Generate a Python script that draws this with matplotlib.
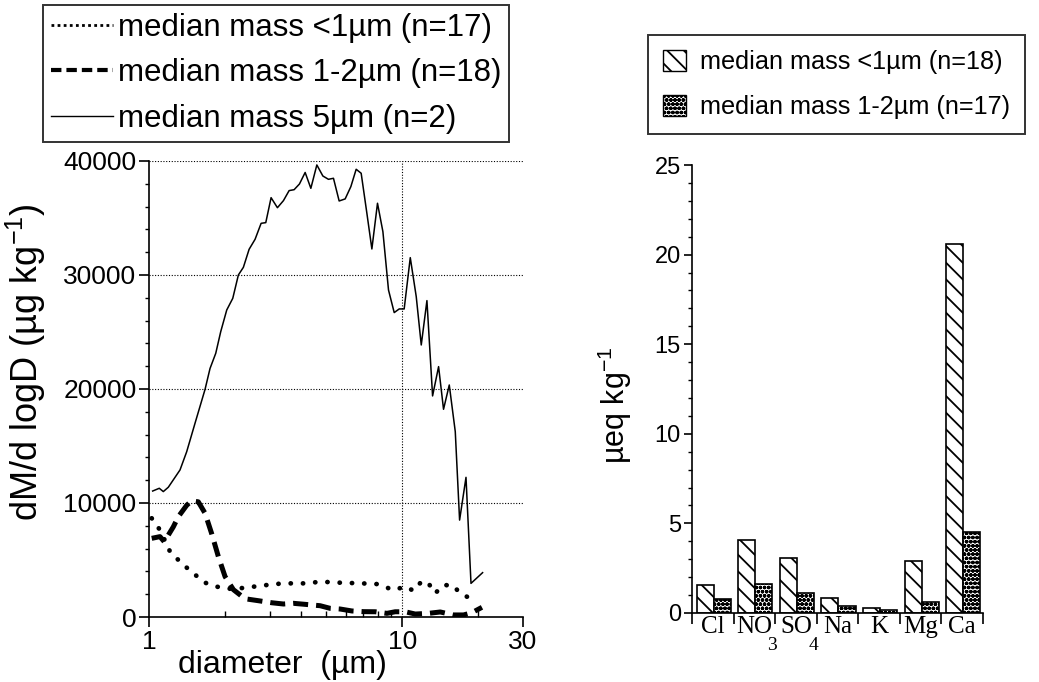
import numpy as np
import matplotlib
matplotlib.use('Agg')
import matplotlib.pyplot as plt
from matplotlib.lines import Line2D
from matplotlib.patches import Patch
from matplotlib.ticker import FixedLocator, NullFormatter, FixedFormatter

plt.rcParams['font.family'] = ['Liberation Sans', 'DejaVu Sans']
plt.rcParams['mathtext.fontset'] = 'custom'
plt.rcParams['mathtext.rm'] = 'Liberation Sans'
plt.rcParams['mathtext.sf'] = 'Liberation Sans'
plt.rcParams['hatch.linewidth'] = 1.3

# -----------------------------------------------
# Left panel - mass size distributions
# -----------------------------------------------

# median mass 5 um (n=2)
d_5um = [1.034, 1.098, 1.139, 1.192, 1.326, 1.409, 1.520, 1.665, 1.742, 1.835,
         1.920, 2.028, 2.142, 2.254, 2.359, 2.485, 2.624, 2.772, 2.892, 3.035,
         3.215, 3.396, 3.576, 3.742, 3.928, 4.137, 4.357, 4.601, 4.860, 5.113,
         5.352, 5.636, 5.952, 6.269, 6.579, 6.885, 7.252, 7.589, 7.987, 8.389,
         8.828, 9.298, 9.730, 10.18, 10.76, 11.36, 11.89, 12.52, 13.18, 13.92,
         14.56, 15.34, 16.20, 16.85, 17.86, 18.69, 20.77]
m_5um = [11050, 11290, 11000, 11380, 12900, 14500, 17000, 19970, 21800, 23130,
         25030, 26930, 27950, 30000, 30670, 32250, 33130, 34530, 34590, 36780,
         35900, 36520, 37400, 37480, 37980, 38990, 37600, 39650, 38680, 38390,
         38480, 36490, 36670, 37750, 39270, 38920, 35410, 32280, 36290, 33800,
         28680, 26700, 27020, 27020, 31520, 28100, 23860, 27750, 19390, 21960,
         18220, 20350, 16260, 8500, 12250, 2950, 3890]

# median mass 1-2 um (n=18)
d_12um = [1.025, 1.105, 1.149, 1.247, 1.306, 1.409, 1.475, 1.566, 1.665, 1.769,
          1.879, 1.997, 2.154, 2.395, 2.704, 3.055, 3.396, 3.719, 4.137, 4.742,
          5.192, 5.689, 6.327, 7.031, 7.822, 8.703, 9.382, 10.28, 11.26, 12.70,
          14.13, 15.95, 17.47, 18.86, 20.65]
m_12um = [6900, 7050, 6600, 7900, 8800, 9800, 10200, 10100, 9100, 7300,
          5300, 3550, 2400, 1600, 1430, 1250, 1140, 1200, 1110, 990,
          760, 700, 530, 470, 460, 320, 460, 460, 260, 320,
          440, 180, 180, 380, 850]

# median mass <1 um (n=17)
d_1um = [1.025, 1.105, 1.211, 1.346, 1.497, 1.665, 1.852, 2.154, 2.433, 2.746,
         3.099, 3.502, 4.202, 4.742, 5.689, 6.930, 7.943, 9.239, 10.28, 11.08,
         11.97, 12.70, 13.50, 14.56, 15.95, 16.69, 18.02, 20.03]
m_1um = [8660, 7630, 5730, 4710, 3830, 3010, 2660, 2430, 2600, 2720,
         2890, 2950, 2950, 3100, 3010, 2950, 2890, 2370, 2660, 2310,
         3160, 2950, 2080, 2810, 2750, 2220, 1780, 1730]

# -----------------------------------------------
# Right panel - ion concentrations
# -----------------------------------------------

ion_names = ['Cl', 'NO', 'SO', 'Na', 'K', 'Mg', 'Ca']
ion_subs = ['', '3', '4', '', '', '', '']
ion_lt1 = [1.55, 4.10, 3.05, 0.84, 0.28, 2.90, 20.57]
ion_12 = [0.80, 1.60, 1.12, 0.37, 0.17, 0.61, 4.50]

fig = plt.figure(figsize=(10.39, 6.82), dpi=100)

# ---------------- left panel ----------------
ax1 = fig.add_axes([0.1434, 0.0953, 0.36, 0.6687])
ax1.plot(d_1um, m_1um, color='black', lw=3.4,
         linestyle=(0, (0.05, 2.55)), dash_capstyle='round')
ax1.plot(d_12um, m_12um, color='black', lw=3.6,
         linestyle=(0, (3.0, 1.6)))
ax1.plot(d_5um, m_5um, color='black', lw=1.1)

ax1.set_xscale('log')
ax1.set_xlim(1, 30)
ax1.set_ylim(0, 40000)
ax1.xaxis.set_major_locator(FixedLocator([1, 10, 30]))
ax1.xaxis.set_major_formatter(FixedFormatter(['1', '10', '30']))
ax1.xaxis.set_minor_locator(FixedLocator([2, 3, 4, 5, 6, 7, 8, 9, 20]))
ax1.xaxis.set_minor_formatter(NullFormatter())
ax1.set_yticks([0, 10000, 20000, 30000, 40000])
ax1.yaxis.set_minor_locator(FixedLocator(np.arange(0, 40001, 2000)))

for y in [10000, 20000, 30000, 40000]:
    ax1.axhline(y, color='black', lw=0.8, linestyle=(0, (1, 1.5)), zorder=0)
ax1.axvline(10, color='black', lw=0.8, linestyle=(0, (1, 1.5)), zorder=0)

for side in ['top', 'right']:
    ax1.spines[side].set_visible(False)
ax1.spines['left'].set_linewidth(1.2)
ax1.spines['bottom'].set_linewidth(1.2)
ax1.tick_params(axis='both', which='major', direction='out', length=7,
                width=1.2, labelsize=19)
ax1.tick_params(axis='y', which='major', pad=2)
ax1.tick_params(axis='y', which='minor', direction='out', length=3, width=1)
ax1.tick_params(axis='x', which='minor', direction='in', length=4, width=1)
ax1.tick_params(axis='x', which='major', pad=2)

ax1.set_xlabel('diameter  (µm)', fontsize=23)
ax1.xaxis.set_label_coords(0.356, -0.072)
ax1.set_ylabel('dM/d logD (µg kg$^{-1}$)', fontsize=26)
ax1.yaxis.set_label_coords(-0.27, 0.56)

h1 = [Line2D([], [], color='black', lw=2, linestyle=(0, (1, 1.2))),
      Line2D([], [], color='black', lw=3, linestyle=(0, (2.5, 1.2))),
      Line2D([], [], color='black', lw=1)]
lab1 = ['median mass <1µm (n=17)', 'median mass 1-2µm (n=18)',
        'median mass 5µm (n=2)']
leg1 = fig.legend(h1, lab1, loc='upper left', bbox_to_anchor=(0.0414, 0.9927),
                  fontsize=22.5, frameon=True, fancybox=False, handlelength=2.0,
                  handletextpad=0.15, borderpad=0.25, labelspacing=0.5,
                  borderaxespad=0)
leg1.get_frame().set_edgecolor('black')
leg1.get_frame().set_linewidth(1.4)

# ---------------- right panel ----------------
ax2 = fig.add_axes([0.666, 0.1012, 0.280, 0.6568])
x = np.arange(len(ion_names))
ax2.bar(x - 0.18, ion_lt1, width=0.41, color='white', edgecolor='black',
        hatch='\\\\', lw=1.2)
ax2.bar(x + 0.23, ion_12, width=0.41, color='white', edgecolor='black',
        hatch='oooo', lw=1.2)

ax2.set_xlim(-0.5, 6.5)
ax2.set_ylim(0, 25)
ax2.xaxis.set_major_locator(FixedLocator(np.arange(-0.5, 7, 1)))
ax2.xaxis.set_major_formatter(NullFormatter())
ax2.xaxis.set_minor_locator(FixedLocator(x))
ax2.xaxis.set_minor_formatter(FixedFormatter(ion_names))
ax2.set_yticks([0, 5, 10, 15, 20, 25])
ax2.yaxis.set_minor_locator(FixedLocator(np.arange(0, 26, 1)))

for side in ['top', 'right']:
    ax2.spines[side].set_visible(False)
ax2.spines['left'].set_linewidth(1.2)
ax2.spines['bottom'].set_linewidth(1.2)
ax2.tick_params(axis='x', which='major', direction='out', length=8, width=1.2)
ax2.tick_params(axis='x', which='minor', length=0, pad=2)
ax2.tick_params(axis='y', which='major', direction='out', length=6, width=1.2,
                pad=2)
ax2.tick_params(axis='y', which='minor', direction='out', length=3, width=1)
for t in ax2.get_xticklabels(minor=True):
    t.set_fontfamily('Liberation Serif')
    t.set_fontsize(18)
for t in ax2.get_yticklabels():
    t.set_fontsize(17)

# subscripts of NO3 and SO4, set low under the tick labels
for i, s in enumerate(ion_subs):
    if s:
        ax2.annotate(s, xy=(x[i], 0), xycoords=('data', 'axes fraction'),
                     xytext=(13, -17), textcoords='offset points',
                     ha='center', va='top', fontsize=14,
                     fontfamily='Liberation Serif')

ax2.set_ylabel('µeq kg$^{-1}$', fontsize=22)
ax2.yaxis.set_label_coords(-0.2, 0.465)

h2 = [Patch(facecolor='white', edgecolor='black', hatch='\\\\'),
      Patch(facecolor='white', edgecolor='black', hatch='oooo')]
lab2 = ['median mass <1µm (n=18)', 'median mass 1-2µm (n=17)']
leg2 = fig.legend(h2, lab2, loc='upper left', bbox_to_anchor=(0.6237, 0.9487),
                  fontsize=18.2, frameon=True, fancybox=False,
                  handlelength=0.9, handleheight=0.9, handletextpad=0.55,
                  borderpad=0.6, labelspacing=0.8, borderaxespad=0)
leg2.get_frame().set_edgecolor('black')
leg2.get_frame().set_linewidth(1.4)

plt.savefig('out.png', dpi=100)
